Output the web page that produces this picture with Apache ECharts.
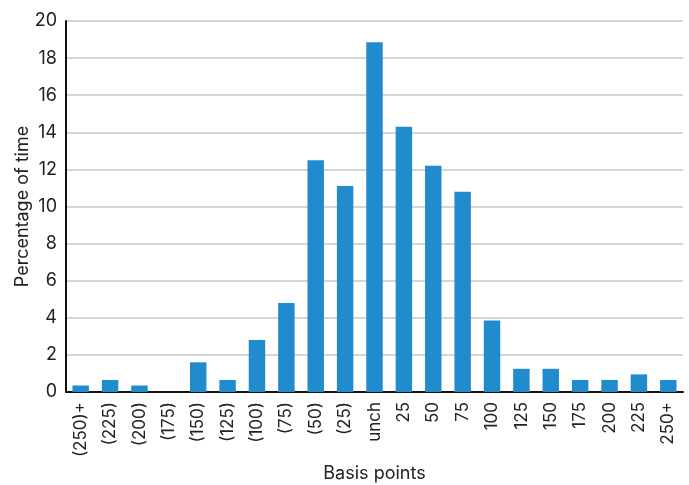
<!DOCTYPE html>
<html><head><meta charset="utf-8">
<script src="https://cdn.jsdelivr.net/npm/echarts@6/dist/echarts.min.js"></script>
<style>html,body{margin:0;padding:0;background:#fff}#c{width:689px;height:485px}</style>
</head><body><div id="c"></div>
<script>
const categories = ["(250)+","(225)","(200)","(175)","(150)","(125)","(100)","(75)","(50)","(25)","unch","25","50","75","100","125","150","175","200","225","250+"];
const values = [0.35,0.65,0.35,0,1.6,0.65,2.8,4.8,12.5,11.1,18.85,14.3,12.2,10.8,3.85,1.25,1.25,0.65,0.65,0.95,0.65];
const yTicks = [0,2,4,6,8,10,12,14,16,18,20];
const font = "Inter, 'Noto Sans', sans-serif";
const chart = echarts.init(document.getElementById('c'));
chart.setOption({
  animation:false,
  grid:{left:66,right:6,top:21,bottom:93,containLabel:false,outerBoundsMode:'none'},
  xAxis:{type:'category',data:categories,
    name:'Basis points',nameLocation:'middle',nameGap:73,nameMoveOverlap:false,
    nameTextStyle:{fontFamily:font,fontSize:18,color:'#222'},
    axisLine:{lineStyle:{color:'#111',width:2}},axisTick:{show:false},
    axisLabel:{rotate:90,interval:0,fontFamily:font,fontSize:17,color:'#222',margin:10}},
  yAxis:{type:'value',min:0,max:20,interval:2,
    name:'Percentage of time',nameLocation:'middle',nameGap:34,nameMoveOverlap:false,
    nameTextStyle:{fontFamily:font,fontSize:18,color:'#222'},
    axisLine:{show:true,lineStyle:{color:'#111',width:2}},axisTick:{show:false},
    axisLabel:{fontFamily:font,fontSize:18,color:'#222',margin:9,
      formatter:v=>yTicks.includes(v)?String(v):''},
    splitLine:{lineStyle:{color:'#d6d6d6',width:2}}},
  series:[{type:'bar',data:values,barWidth:'56%',
    itemStyle:{color:'#218bcd'}}]
});
</script></body></html>
